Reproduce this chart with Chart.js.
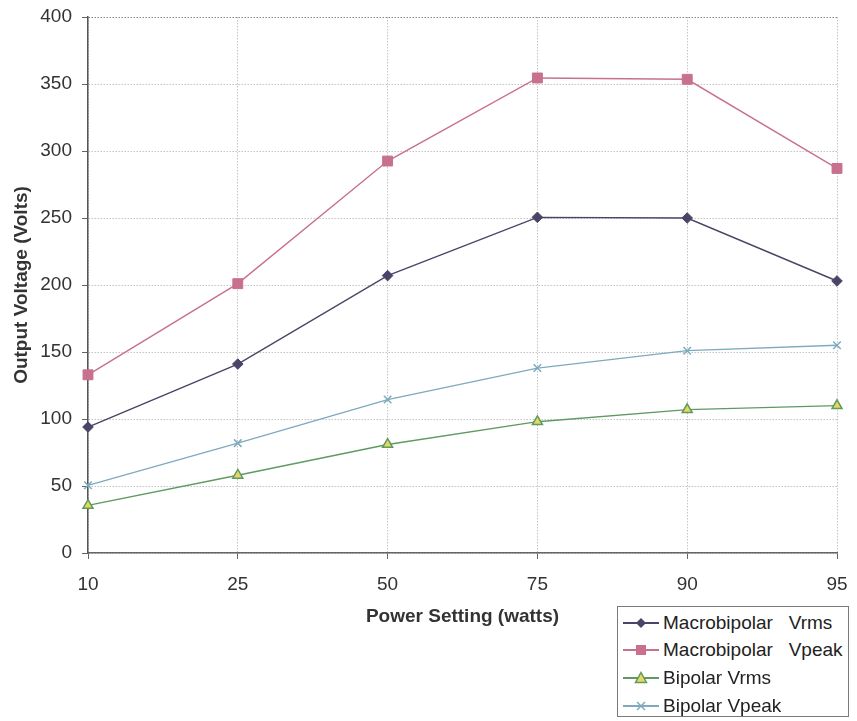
<!DOCTYPE html>
<html>
<head>
<meta charset="utf-8">
<script src="https://cdn.jsdelivr.net/npm/chart.js@4/dist/chart.umd.min.js"></script>
<style>
  html, body { margin: 0; padding: 0; background: #fff; }
  #wrap { position: relative; width: 857px; height: 721px; }
  #legend {
    position: absolute; left: 617px; top: 606px; width: 232px; height: 111px;
    border: 1px solid #7a7a7a; background: #fff; box-sizing: border-box;
    font-family: "Liberation Sans", Arial, sans-serif; font-size: 19px; color: #222;
  }
  .item { position: absolute; left: 5px; height: 28px; display: flex; align-items: center; white-space: pre; }
  .item svg { margin-right: 4px; }
</style>
</head>
<body>
<div id="wrap">
  <canvas id="c" width="857" height="721"></canvas>
  <div id="legend"></div>
</div>
<script>
const categories = ['10', '25', '50', '75', '90', '95'];
const macroVrms  = [94, 141, 207, 250.5, 250, 203];
const macroVpeak = [133, 201, 292.5, 354.5, 353.5, 287];
const bipolarVrms  = [35.5, 58, 81, 98, 107, 110];
const bipolarVpeak = [50.5, 82, 114.5, 138, 151, 155];
const yTicks = [0, 50, 100, 150, 200, 250, 300, 350, 400];
const seriesNames = ['Macrobipolar   Vrms', 'Macrobipolar   Vpeak', 'Bipolar Vrms', 'Bipolar Vpeak'];

const FONT = '"Liberation Sans", Arial, sans-serif';
const styles = [
  { line: '#4a4566', fill: '#4a4566', marker: 'rectRot', r: 5.3 },
  { line: '#c8708f', fill: '#c8708f', marker: 'rect', r: 7 },
  { line: '#5f9a62', fill: '#e8d660', marker: 'triangle', r: 5.8 },
  { line: '#7eaabe', fill: '#7eaabe', marker: 'crossRot', r: 5.3 }
];
const seriesData = [macroVrms, macroVpeak, bipolarVrms, bipolarVpeak];

const datasets = seriesData.map((d, i) => ({
  label: seriesNames[i],
  data: d,
  borderColor: styles[i].line,
  backgroundColor: styles[i].fill,
  pointBackgroundColor: styles[i].fill,
  pointBorderColor: i === 1 ? styles[i].fill : styles[i].line,
  pointBorderWidth: (i === 2 || i === 3) ? 1.5 : 1,
  pointStyle: styles[i].marker,
  pointRadius: styles[i].r,
  borderWidth: 1.4,
  tension: 0,
  fill: false
}));

new Chart(document.getElementById('c'), {
  type: 'line',
  data: { labels: categories, datasets },
  options: {
    responsive: false,
    animation: false,
    layout: { padding: { left: 0, right: 20, top: 17, bottom: 91 } },
    plugins: { legend: { display: false }, tooltip: { enabled: false } },
    scales: {
      x: {
        type: 'category',
        offset: false,
        grid: {
          color: '#c4c4c4', lineWidth: 1, tickLength: 6,
          tickColor: '#666', tickBorderDash: [], drawOnChartArea: true
        },
        border: { color: '#666', width: 1.5, dash: [1.5, 1.5] },
        ticks: { color: '#333', font: { family: FONT, size: 19 }, padding: 14, maxRotation: 0 },
        title: {
          display: true, text: 'Power Setting (watts)', color: '#333',
          font: { family: FONT, size: 19, weight: 'bold' }, padding: { top: 0, bottom: 2 }
        },
        afterFit: s => { s.height = 77; s.paddingLeft = 0; s.paddingRight = 0; }
      },
      y: {
        min: 0, max: 400,
        afterBuildTicks: s => { s.ticks = yTicks.map(v => ({ value: v })); },
        grid: {
          color: ctx => ctx.tick && ctx.tick.value === 400 ? '#888' : '#c4c4c4',
          lineWidth: 1, tickLength: 6, tickColor: '#666', tickBorderDash: []
        },
        border: { color: '#555', width: 1.5, dash: [1.5, 1.5] },
        ticks: { color: '#333', font: { family: FONT, size: 19 }, padding: 10 },
        title: {
          display: true, text: 'Output Voltage (Volts)', color: '#333',
          font: { family: FONT, size: 19, weight: 'bold' }, padding: { top: 10, bottom: 0 }
        },
        afterFit: s => { s.width = 88; s.paddingTop = 0; s.paddingBottom = 0; }
      }
    }
  }
});

// HTML legend
const legend = document.getElementById('legend');
const tops = [2, 29, 57, 85];
seriesNames.forEach((name, i) => {
  const st = styles[i];
  let marker = '';
  if (st.marker === 'rectRot') marker = '<polygon points="18,3 23,8 18,13 13,8" fill="' + st.fill + '"/>';
  if (st.marker === 'rect') marker = '<rect x="13" y="3" width="10" height="10" fill="' + st.fill + '"/>';
  if (st.marker === 'triangle') marker = '<polygon points="18,2.5 23.5,12.5 12.5,12.5" fill="' + st.fill + '" stroke="' + st.line + '" stroke-width="1.5"/>';
  if (st.marker === 'crossRot') marker = '<path d="M14,4 L22,12 M22,4 L14,12" stroke="' + st.line + '" stroke-width="1.5"/>';
  const div = document.createElement('div');
  div.className = 'item';
  div.style.top = tops[i] + 'px';
  div.innerHTML = '<svg width="36" height="16"><line x1="0" y1="8" x2="36" y2="8" stroke="' + st.line + '" stroke-width="2"/>' + marker + '</svg>' + name;
  legend.appendChild(div);
});
</script>
</body>
</html>
